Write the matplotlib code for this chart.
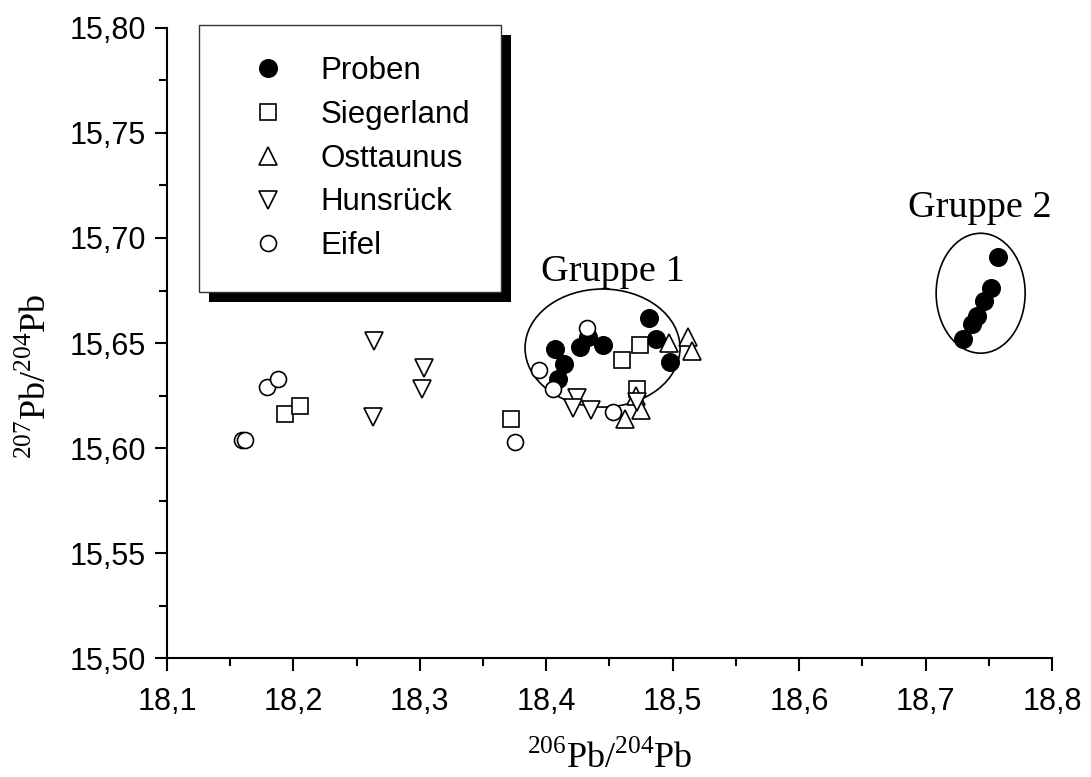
import matplotlib
matplotlib.use("Agg")
import matplotlib.pyplot as plt
from matplotlib.patches import Ellipse, Rectangle
from matplotlib.ticker import MultipleLocator, FuncFormatter

plt.rcParams["font.family"] = ["Liberation Sans", "DejaVu Sans"]
plt.rcParams["mathtext.fontset"] = "custom"
plt.rcParams["mathtext.rm"] = "Liberation Serif"

SERIF = "Liberation Serif"

# Pb isotope ratios: 206Pb/204Pb (x) vs 207Pb/204Pb (y)
proben_x = [18.481, 18.433, 18.427, 18.445, 18.407, 18.414, 18.409, 18.487, 18.498,
            18.757, 18.752, 18.746, 18.741, 18.737, 18.730]
proben_y = [15.662, 15.653, 15.648, 15.649, 15.647, 15.640, 15.633, 15.652, 15.641,
            15.691, 15.676, 15.670, 15.663, 15.659, 15.652]

siegerland_x = [18.474, 18.460, 18.472, 18.372, 18.193, 18.205]
siegerland_y = [15.649, 15.642, 15.628, 15.614, 15.616, 15.620]

osttaunus_x = [18.497, 18.512, 18.515, 18.471, 18.475, 18.462]
osttaunus_y = [15.650, 15.653, 15.646, 15.625, 15.618, 15.614]

hunsrueck_x = [18.264, 18.303, 18.302, 18.263, 18.424, 18.421, 18.435, 18.472]
hunsrueck_y = [15.651, 15.638, 15.628, 15.615, 15.624, 15.619, 15.618, 15.622]

eifel_x = [18.179, 18.188, 18.159, 18.162, 18.375, 18.432, 18.394, 18.405, 18.453]
eifel_y = [15.629, 15.633, 15.604, 15.604, 15.603, 15.657, 15.637, 15.628, 15.617]

# group outlines: centre x, centre y, width, height, label, label x, label y
groups = [
    (18.4445, 15.6476, 0.1226, 0.0562, "Gruppe 1", 18.4528, 15.6838),
    (18.7436, 15.6737, 0.0704, 0.0571, "Gruppe 2", 18.7432, 15.7143),
]

fig = plt.figure(figsize=(10.91, 7.77), dpi=100)
ax = fig.add_axes([0.1531, 0.1531, 0.8111, 0.8109])

mk = dict(linestyle="none", markeredgecolor="black", markeredgewidth=1.2)
ax.plot(proben_x, proben_y, "o", ms=12.5, markerfacecolor="black", label="Proben", **mk)
ax.plot(siegerland_x, siegerland_y, "s", ms=11, markerfacecolor="white", label="Siegerland", **mk)
ax.plot(osttaunus_x, osttaunus_y, "^", ms=12.5, markerfacecolor="white", label="Osttaunus", **mk)
ax.plot(hunsrueck_x, hunsrueck_y, "v", ms=12.5, markerfacecolor="white", label="Hunsrück", **mk)
ax.plot(eifel_x, eifel_y, "o", ms=11.5, markerfacecolor="white", label="Eifel", **mk)

for cx, cy, w, h, name, tx, ty in groups:
    ax.add_patch(Ellipse((cx, cy), w, h, fill=False, edgecolor="black", lw=1.2, zorder=1))
    ax.text(tx, ty, name, family=SERIF, fontsize=27.5, ha="center", va="center")

ax.set_xlim(18.1, 18.8)
ax.set_ylim(15.5, 15.8)
for s in ("top", "right"):
    ax.spines[s].set_visible(False)
for s in ("left", "bottom"):
    ax.spines[s].set_linewidth(1.5)

ax.xaxis.set_major_locator(MultipleLocator(0.1))
ax.xaxis.set_minor_locator(MultipleLocator(0.05))
ax.yaxis.set_major_locator(MultipleLocator(0.05))
ax.yaxis.set_minor_locator(MultipleLocator(0.025))
ax.xaxis.set_major_formatter(FuncFormatter(lambda v, p: f"{v:.1f}".replace(".", ",")))
ax.yaxis.set_major_formatter(FuncFormatter(lambda v, p: f"{v:.2f}".replace(".", ",")))
ax.tick_params(which="major", length=9, width=1.5, labelsize=22)
ax.tick_params(which="minor", length=5.5, width=1.5)
ax.tick_params(axis="x", which="major", pad=12)
ax.tick_params(axis="y", which="major", pad=6)

ax.set_xlabel(r"$^{206}$Pb/$^{204}$Pb", family=SERIF, fontsize=26)
ax.set_ylabel(r"$^{207}$Pb/$^{204}$Pb", family=SERIF, fontsize=26)
ax.xaxis.set_label_coords(0.5, -0.131)
ax.yaxis.set_label_coords(-0.128, 0.448)

leg = ax.legend(loc="upper left", bbox_to_anchor=(0.0362, 1.0048), borderaxespad=0,
                fontsize=22.5, fancybox=False, framealpha=1, edgecolor="#333333",
                borderpad=1.0, labelspacing=0.44, handlelength=2.43, handletextpad=0.45,
                numpoints=1)
leg.get_frame().set_linewidth(1.0)

# solid drop shadow behind the legend box
fig.canvas.draw()
bb = leg.get_window_extent()
inv = ax.transAxes.inverted()
(x0, y0), (x1, y1) = inv.transform([[bb.x0 + 10, bb.y0 - 10], [bb.x1 + 10, bb.y1 - 10]])
ax.add_patch(Rectangle((x0, y0), x1 - x0, y1 - y0, transform=ax.transAxes,
                       facecolor="black", edgecolor="none", zorder=4.9, clip_on=False))

fig.savefig("out.png", dpi=100, facecolor="white")
